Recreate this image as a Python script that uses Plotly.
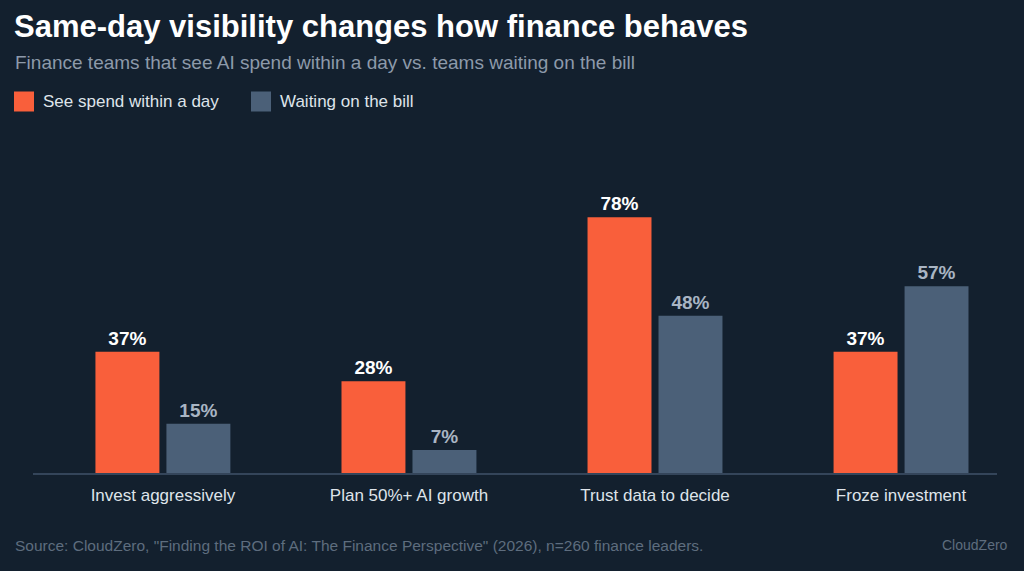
import plotly.graph_objects as go

# data
categories = ["Invest aggressively", "Plan 50%+ AI growth", "Trust data to decide", "Froze investment"]
same_day = [37, 28, 78, 37]
waiting = [15, 7, 48, 57]
series_names = ["See spend within a day", "Waiting on the bill"]

title = "Same-day visibility changes how finance behaves"
subtitle = "Finance teams that see AI spend within a day vs. teams waiting on the bill"
source = 'Source: CloudZero, "Finding the ROI of AI: The Finance Perspective" (2026), n=260 finance leaders.'
brand = "CloudZero"

BG = "#13202e"
ORANGE = "#f95f3b"
SLATE = "#4b6078"
FONT = "Liberation Sans, Arial, sans-serif"

W, H = 1024, 571
L, R, T, B = 33, 27, 178, 98


# helpers to place layout items by pixel position
def px_x(x):
    return (x - L) / (W - L - R)


def px_y(y):
    return (H - B - y) / (H - T - B)


fig = go.Figure()

fig.add_trace(go.Bar(
    x=categories, y=same_day, name=series_names[0],
    marker=dict(color=ORANGE, line=dict(width=0)),
    text=[f"{v}%" for v in same_day], textposition="outside",
    textfont=dict(color="#ffffff", size=19, family=FONT, weight="bold"),
    cliponaxis=False,
))
fig.add_trace(go.Bar(
    x=categories, y=waiting, name=series_names[1],
    marker=dict(color=SLATE, line=dict(width=0)),
    text=[f"{v}%" for v in waiting], textposition="outside",
    textfont=dict(color="#a9b5c3", size=19, family=FONT, weight="bold"),
    cliponaxis=False,
))

# hand-made legend row (square swatches + labels)
shapes = []
annotations = []
for name, col, x0 in zip(series_names, [ORANGE, SLATE], [14, 251]):
    shapes.append(dict(
        type="rect", xref="paper", yref="paper",
        x0=px_x(x0), x1=px_x(x0 + 20), y0=px_y(111.5), y1=px_y(91.5),
        fillcolor=col, line=dict(width=0),
    ))
    annotations.append(dict(
        text=name, xref="paper", yref="paper", x=px_x(x0 + 27), y=px_y(101.5),
        xanchor="left", yanchor="middle", showarrow=False,
        font=dict(size=17, color="#dfe4ea"),
    ))

annotations += [
    dict(text=subtitle, xref="paper", yref="paper", x=px_x(13), y=px_y(63),
         xanchor="left", yanchor="middle", showarrow=False,
         font=dict(size=19, color="#8d9aaa")),
    dict(text=source, xref="paper", yref="paper", x=px_x(13), y=px_y(545),
         xanchor="left", yanchor="middle", showarrow=False,
         font=dict(size=15.5, color="#5e6d7e")),
    dict(text=brand, xref="paper", yref="paper", x=px_x(1010), y=px_y(545),
         xanchor="right", yanchor="middle", showarrow=False,
         font=dict(size=14, color="#5e6d7e")),
]

fig.update_layout(
    width=W, height=H,
    paper_bgcolor=BG, plot_bgcolor=BG,
    font=dict(family=FONT, color="#dfe4ea"),
    margin=dict(l=L, r=R, t=T, b=B),
    barmode="group", bargap=0.423, bargroupgap=0.099,
    showlegend=False,
    title=dict(
        text=f"<b>{title}</b>", x=14 / W, xref="container", xanchor="left",
        y=1 - 26 / H, yref="container", yanchor="middle",
        font=dict(size=31, color="#ffffff", family=FONT),
    ),
    xaxis=dict(
        range=[-0.528, 3.39], showgrid=False, zeroline=False,
        showline=True, linecolor="#34455a", linewidth=1.5,
        ticks="", tickfont=dict(size=17, color="#dfe4ea"),
        ticklabelstandoff=6, fixedrange=True,
    ),
    yaxis=dict(
        range=[0, 90], showgrid=False, zeroline=False, showticklabels=False,
        fixedrange=True,
    ),
    shapes=shapes,
    annotations=annotations,
)

fig.write_html(
    "out.html",
    config={"displayModeBar": False},
    post_script="document.body.style.margin='0';",
)
